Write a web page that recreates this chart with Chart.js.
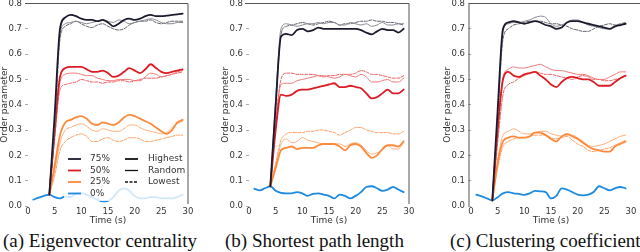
<!DOCTYPE html>
<html><head><meta charset="utf-8">
<script src="https://cdn.jsdelivr.net/npm/chart.js@4.4.1/dist/chart.umd.min.js"></script>
<style>
html,body{margin:0;padding:0;background:#fff;width:640px;height:252px;overflow:hidden;position:relative;}
canvas{position:absolute;top:0;}
.cap{position:absolute;top:231px;font-family:"Liberation Serif","Times New Roman",serif;font-size:19px;line-height:19px;white-space:nowrap;color:#111;}
</style></head><body>
<canvas id="ca" width="200" height="226" style="left:0px"></canvas>
<canvas id="cb" width="200" height="226" style="left:221px"></canvas>
<canvas id="cc" width="197" height="226" style="left:443px"></canvas>
<script>
// ---------- data ----------
const T_BLUE = [1,2,3,4,5,6,7,8,9,10,11,12,13,14,15,16,17,18,19,20,21,22,23,24,25,26,27,28,29];
const T_RUN  = [4,5,6,7,8,9,10,11,12,13,14,15,16,17,18,19,20,21,22,23,24,25,26,27,28,29];
const X_TICKS = [0,5,10,15,20,25,30];
const Y_TICKS = [0,0.1,0.2,0.3,0.4,0.5,0.6,0.7,0.8];
const LEVELS = ['75%','50%','25%','0%'];
const STRATEGIES = ['Highest','Random','Lowest'];
const CAPTIONS = ['(a) Eigenvector centrality','(b) Shortest path length','(c) Clustering coefficient'];
const X_TITLE = 'Time (s)';
const Y_TITLE = 'Order parameter';

// (a) Eigenvector centrality
const aBlue = [0.025,0.033,0.04,0.045,0.035,0.03,0.038,0.035,0.05,0.05,0.045,0.035,0.025,0.018,0.02,0.035,0.06,0.07,0.06,0.04,0.03,0.03,0.035,0.035,0.03,0.03,0.03,0.035,0.045];
const aH75 = [0.045,0.36,0.70,0.745,0.755,0.75,0.74,0.735,0.735,0.73,0.735,0.725,0.71,0.72,0.735,0.74,0.735,0.74,0.75,0.755,0.75,0.75,0.752,0.755,0.757,0.76];
const aR75 = [0.045,0.33,0.68,0.72,0.725,0.73,0.725,0.72,0.725,0.73,0.735,0.73,0.725,0.735,0.73,0.72,0.725,0.73,0.735,0.74,0.735,0.725,0.72,0.72,0.725,0.725];
const aL75 = [0.045,0.30,0.66,0.71,0.72,0.73,0.72,0.71,0.705,0.715,0.72,0.71,0.70,0.695,0.70,0.715,0.725,0.73,0.73,0.735,0.725,0.72,0.725,0.73,0.73,0.73];
const aH50 = [0.045,0.30,0.51,0.545,0.55,0.55,0.55,0.54,0.53,0.53,0.535,0.525,0.51,0.515,0.53,0.545,0.535,0.525,0.54,0.56,0.545,0.53,0.525,0.53,0.535,0.54];
const aR50 = [0.045,0.28,0.49,0.52,0.525,0.525,0.52,0.515,0.515,0.505,0.50,0.495,0.495,0.50,0.50,0.50,0.495,0.495,0.51,0.525,0.52,0.51,0.515,0.52,0.53,0.535];
const aL50 = [0.045,0.26,0.46,0.48,0.485,0.49,0.50,0.495,0.49,0.49,0.485,0.49,0.49,0.495,0.495,0.49,0.495,0.50,0.505,0.505,0.505,0.51,0.515,0.52,0.525,0.53];
const aH25 = [0.045,0.16,0.28,0.33,0.34,0.35,0.355,0.345,0.325,0.32,0.33,0.325,0.32,0.33,0.35,0.36,0.355,0.345,0.335,0.325,0.31,0.295,0.285,0.30,0.33,0.34];
const aR25 = [0.045,0.14,0.25,0.30,0.31,0.32,0.325,0.315,0.30,0.295,0.305,0.30,0.295,0.295,0.305,0.32,0.32,0.31,0.30,0.295,0.29,0.285,0.29,0.31,0.325,0.335];
const aL25 = [0.045,0.12,0.22,0.255,0.27,0.28,0.285,0.275,0.255,0.255,0.265,0.27,0.26,0.255,0.26,0.27,0.27,0.265,0.255,0.255,0.26,0.265,0.27,0.275,0.28,0.28];

// (b) Shortest path length
const bBlue = [0.068,0.062,0.07,0.078,0.06,0.052,0.05,0.05,0.055,0.05,0.04,0.048,0.05,0.045,0.04,0.03,0.045,0.04,0.03,0.04,0.055,0.075,0.078,0.07,0.06,0.065,0.075,0.065,0.055];
const bH75 = [0.078,0.40,0.67,0.68,0.675,0.695,0.70,0.69,0.695,0.705,0.70,0.70,0.70,0.70,0.70,0.70,0.70,0.695,0.685,0.678,0.69,0.70,0.695,0.695,0.685,0.70];
const bR75 = [0.078,0.42,0.70,0.72,0.715,0.71,0.715,0.72,0.72,0.725,0.72,0.725,0.725,0.715,0.715,0.725,0.72,0.715,0.72,0.71,0.715,0.725,0.715,0.715,0.72,0.72];
const bL75 = [0.078,0.38,0.68,0.71,0.715,0.72,0.725,0.72,0.715,0.72,0.725,0.73,0.725,0.715,0.72,0.72,0.725,0.73,0.73,0.735,0.73,0.73,0.725,0.725,0.72,0.715];
const bH50 = [0.078,0.30,0.44,0.435,0.44,0.455,0.46,0.46,0.465,0.47,0.475,0.48,0.485,0.47,0.47,0.475,0.47,0.465,0.445,0.425,0.43,0.445,0.46,0.445,0.445,0.46];
const bR50 = [0.078,0.32,0.48,0.485,0.485,0.495,0.50,0.505,0.51,0.515,0.515,0.51,0.505,0.51,0.52,0.515,0.51,0.52,0.51,0.49,0.49,0.495,0.50,0.49,0.49,0.505];
const bL50 = [0.078,0.33,0.50,0.525,0.525,0.52,0.52,0.52,0.52,0.515,0.51,0.515,0.515,0.52,0.52,0.52,0.525,0.535,0.53,0.52,0.52,0.515,0.51,0.505,0.505,0.515];
const bH25 = [0.078,0.15,0.22,0.23,0.235,0.225,0.23,0.23,0.23,0.24,0.245,0.245,0.245,0.235,0.22,0.24,0.245,0.235,0.21,0.19,0.20,0.225,0.24,0.24,0.235,0.255];
const bR25 = [0.078,0.16,0.245,0.265,0.25,0.255,0.27,0.26,0.255,0.25,0.245,0.245,0.245,0.245,0.235,0.245,0.25,0.24,0.22,0.205,0.21,0.22,0.24,0.225,0.225,0.25];
const bL25 = [0.078,0.17,0.26,0.285,0.29,0.29,0.29,0.295,0.295,0.30,0.30,0.295,0.29,0.28,0.29,0.30,0.31,0.31,0.30,0.295,0.29,0.29,0.29,0.285,0.285,0.295];

// (c) Clustering coefficient
const cBlue = [0.045,0.038,0.03,0.022,0.035,0.05,0.055,0.05,0.048,0.044,0.05,0.06,0.058,0.055,0.03,0.04,0.07,0.065,0.055,0.045,0.042,0.045,0.055,0.078,0.07,0.062,0.07,0.075,0.07];
const cH75 = [0.022,0.38,0.70,0.725,0.73,0.725,0.72,0.725,0.73,0.725,0.715,0.71,0.70,0.705,0.725,0.73,0.73,0.725,0.72,0.715,0.71,0.705,0.70,0.71,0.715,0.72];
const cR75 = [0.022,0.36,0.69,0.72,0.725,0.725,0.73,0.735,0.745,0.75,0.745,0.72,0.71,0.715,0.725,0.735,0.735,0.725,0.715,0.71,0.705,0.70,0.70,0.71,0.715,0.72];
const cL75 = [0.022,0.34,0.66,0.70,0.715,0.72,0.725,0.73,0.73,0.73,0.725,0.72,0.72,0.715,0.71,0.70,0.695,0.69,0.69,0.70,0.71,0.715,0.72,0.715,0.72,0.725];
const cH50 = [0.022,0.30,0.50,0.53,0.515,0.51,0.52,0.525,0.53,0.515,0.50,0.48,0.47,0.49,0.505,0.51,0.505,0.50,0.50,0.49,0.475,0.475,0.475,0.49,0.505,0.515];
const cR50 = [0.022,0.30,0.51,0.54,0.55,0.545,0.545,0.55,0.555,0.56,0.55,0.54,0.535,0.535,0.53,0.525,0.52,0.52,0.515,0.505,0.50,0.50,0.51,0.52,0.53,0.53];
const cL50 = [0.022,0.25,0.44,0.48,0.49,0.505,0.515,0.525,0.53,0.525,0.52,0.52,0.515,0.51,0.505,0.50,0.51,0.515,0.51,0.50,0.50,0.495,0.495,0.50,0.505,0.515];
const cH25 = [0.022,0.17,0.255,0.27,0.275,0.27,0.27,0.275,0.29,0.29,0.28,0.265,0.255,0.275,0.285,0.275,0.265,0.25,0.235,0.225,0.22,0.215,0.215,0.235,0.245,0.255];
const cR25 = [0.022,0.18,0.28,0.295,0.305,0.295,0.285,0.285,0.29,0.295,0.295,0.285,0.28,0.275,0.28,0.28,0.27,0.255,0.24,0.235,0.24,0.245,0.255,0.265,0.275,0.28];
const cL25 = [0.022,0.15,0.235,0.255,0.265,0.27,0.27,0.275,0.28,0.28,0.28,0.27,0.265,0.27,0.275,0.26,0.245,0.235,0.22,0.215,0.22,0.225,0.23,0.24,0.25,0.26];

// ---------- styles ----------
const COL = {
  H75:'#1b1b2e', R75:'#8a8a94', L75:'#5e5e68',
  H50:'#dc1c24', R50:'#ef7a7a', L50:'#e95a5e',
  H25:'#fd8a3c', R25:'#fdb07e', L25:'#fd9c5e',
  B0:'#1c8ae0'
};
const TXT = '#333';
const SANS = '"DejaVu Sans", sans-serif';

function line(t, v, color, width, dash){
  return {data: t.map((x,i)=>({x:x,y:v[i]})), borderColor:color, borderWidth:width,
    borderDash:dash||[], pointRadius:0, fill:false, cubicInterpolationMode:'monotone', borderCapStyle:'round', borderJoinStyle:'round'};
}
function panelSets(H75,R75,L75,H50,R50,L50,H25,R25,L25,B){
  return [
    line(T_RUN,H75,COL.H75,1.8), line(T_RUN,R75,COL.R75,1), line(T_RUN,L75,COL.L75,1,[3,1.5]),
    line(T_RUN,H50,COL.H50,1.8), line(T_RUN,R50,COL.R50,1), line(T_RUN,L50,COL.L50,1,[3,1.5]),
    line(T_RUN,H25,COL.H25,1.8), line(T_RUN,R25,COL.R25,1), line(T_RUN,L25,COL.L25,1,[3,1.5]),
    line(T_BLUE,B,COL.B0,1.8)
  ];
}

const spinePlugin = {
  id:'spines',
  afterDraw(chart, args, opts){
    const {ctx, chartArea:a} = chart;
    ctx.save(); ctx.strokeStyle = '#555'; ctx.lineWidth = 1;
    ctx.beginPath();
    if (opts.top){ ctx.moveTo(a.left - (opts.topExt||0), a.top); ctx.lineTo(a.right + (opts.topRight||0), a.top); }
    if (opts.right){ ctx.moveTo(a.right, a.top); ctx.lineTo(a.right, a.bottom-2); }
    if (opts.left){ ctx.moveTo(a.left-2, a.top); ctx.lineTo(a.left-2, a.bottom); }
    ctx.stroke(); ctx.restore();
  }
};

const legendPlugin = {
  id:'boxlegend',
  afterDatasetsDraw(chart, args, opts){
    if (!opts.show) return;
    const ctx = chart.ctx;
    ctx.save();
    ctx.fillStyle = 'rgba(255,255,255,0.8)';
    ctx.fillRect(64, 151, 122, 50);
    const ys = [159, 170.5, 182, 193.5];
    const cols = [COL.H75, COL.H50, COL.H25, COL.B0];
    ctx.font = '9px ' + SANS; ctx.textBaseline = 'middle'; ctx.textAlign = 'left';
    LEVELS.forEach((lab,i)=>{
      ctx.strokeStyle = cols[i]; ctx.lineWidth = 1.8; ctx.setLineDash([]);
      ctx.beginPath(); ctx.moveTo(68, ys[i]); ctx.lineTo(81, ys[i]); ctx.stroke();
      ctx.fillStyle = TXT; ctx.fillText(lab, 90, ys[i]);
    });
    const w = [1.8, 1.3, 1.3]; const d = [[], [], [3,1.5]];
    STRATEGIES.forEach((lab,i)=>{
      ctx.strokeStyle = '#111'; ctx.lineWidth = w[i]; ctx.setLineDash(d[i]);
      ctx.beginPath(); ctx.moveTo(125, ys[i]); ctx.lineTo(138, ys[i]); ctx.stroke();
      ctx.setLineDash([]);
      ctx.fillStyle = TXT; ctx.fillText(lab, 148, ys[i]);
    });
    ctx.restore();
  }
};

function makeChart(id, sets, rightPad, spines, showLegend, leftBorder){
  return new Chart(document.getElementById(id), {
    type:'line',
    data:{datasets:sets},
    plugins:[spinePlugin, legendPlugin],
    options:{
      responsive:false, animation:false, devicePixelRatio:1,
      layout:{padding:{left:0, right:rightPad, top:3.5, bottom:0}},
      plugins:{legend:{display:false}, tooltip:{enabled:false}, spines:spines, boxlegend:{show:showLegend}},
      scales:{
        x:{type:'linear', min:0, max:30,
          afterBuildTicks:s=>{ s.ticks = X_TICKS.map(v=>({value:v})); },
          afterFit:s=>{ s.height = 20; s.paddingLeft = 0; s.paddingRight = 0; },
          grid:{display:false, drawTicks:false}, border:{display:false},
          ticks:{font:{family:SANS, size:8.5}, color:TXT, padding:1, maxRotation:0, autoSkip:false},
          title:{display:true, text:X_TITLE, font:{family:SANS, size:9}, color:TXT, padding:{top:0,bottom:0}}
        },
        y:{min:0, max:0.8,
          afterBuildTicks:s=>{ s.ticks = Y_TICKS.map(v=>({value:v})); },
          afterFit:s=>{ s.width = 28; s.paddingTop = 0; s.paddingBottom = 0; },
          grid:{display:true, drawOnChartArea:false, drawTicks:true, tickLength:3, color:'#aaa'},
          border:{display:false},
          ticks:{font:{family:SANS, size:8.5}, color:TXT, padding:3, autoSkip:false,
            callback:v=>Number(v).toFixed(1)},
          title:{display:true, text:Y_TITLE, font:{family:SANS, size:9, lineHeight:1}, color:TXT, padding:{top:0,bottom:0}}
        }
      }
    }
  });
}

makeChart('ca', panelSets(aH75,aR75,aL75,aH50,aR50,aL50,aH25,aR25,aL25,aBlue), 12, {top:true,right:true,topExt:3}, true);
makeChart('cb', panelSets(bH75,bR75,bL75,bH50,bR50,bL50,bH25,bR25,bL25,bBlue), 12, {top:true,right:true,topExt:4}, false);
makeChart('cc', panelSets(cH75,cR75,cL75,cH50,cR50,cL50,cH25,cR25,cL25,cBlue), 9, {top:true,left:true,topExt:2,topRight:9}, false);

const capLeft = [3, 225, 450];
CAPTIONS.forEach((c,i)=>{
  const d = document.createElement('div');
  d.className = 'cap'; d.style.left = capLeft[i] + 'px'; d.textContent = c;
  document.body.appendChild(d);
});
</script>
</body></html>
